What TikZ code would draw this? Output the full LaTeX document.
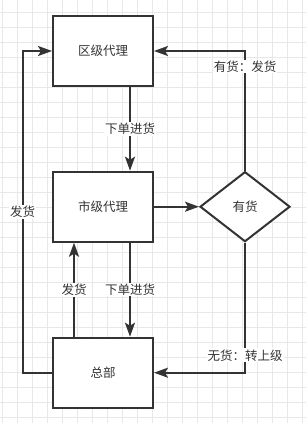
\documentclass[tikz,border=0pt]{standalone}
\usepackage{fontspec}
\setmainfont{Noto Sans CJK SC}
\usetikzlibrary{arrows.meta,shapes.geometric}
\definecolor{lc}{HTML}{333333}
\definecolor{tc}{HTML}{333333}
\definecolor{gridc}{HTML}{E8E8E8}
\begin{document}
\begin{tikzpicture}[x=1pt,y=-1pt,
  box/.style={draw=lc, line width=2pt, fill=white, minimum width=100pt, minimum height=70pt, inner sep=0pt, text=tc, font=\fontsize{12.5}{15}\selectfont},
  dia/.style={diamond, draw=lc, line width=2pt, fill=white, minimum width=90pt, minimum height=70pt, inner sep=0pt, aspect=1.2857, text=tc, font=\fontsize{12.5}{15}\selectfont},
  conn/.style={draw=lc, line width=2pt},
  arr/.style={conn, -{Stealth[length=14pt,width=10pt,inset=3pt]}},
  lbl/.style={fill=white, inner sep=1pt, text=tc, font=\fontsize{12.5}{15}\selectfont}]
\useasboundingbox (0,0) rectangle (306,423);
\fill[white] (0,0) rectangle (306,423);
\foreach \x in {2.3,17.3,...,303} \draw[gridc, line width=0.8pt] (\x,0) -- (\x,423);
\foreach \y in {12.3,27.3,...,423} \draw[gridc, line width=0.8pt] (0,\y) -- (306,\y);

\node[box] (qu) at (103,51) {区级代理};
\node[box] (shi) at (103,206.7) {市级代理};
\node[box] (zb) at (103,372.7) {总部};
\node[dia] (dh) at (245,206.7) {有货};

\coordinate (L1) at (22.7,372.7);
\coordinate (L2) at (22.7,51);

\draw[arr] ([xshift=27pt]qu.south) -- ([xshift=27pt]shi.north) node[lbl, midway] {下单进货};
\draw[arr] ([xshift=27pt]shi.south) -- ([xshift=27pt]zb.north) node[lbl, midway] {下单进货};
\draw[arr] ([xshift=-29pt]zb.north) -- ([xshift=-29pt]shi.south) node[lbl, midway] {发货};
\draw[arr] (shi.east) -- (dh.west);
\draw[arr] (dh.north) |- (qu.east) node[lbl, pos=0.435] {有货：发货};
\draw[arr] (dh.south) |- (zb.east) node[lbl, pos=0.433] {无货：转上级};
\draw[arr] (zb.west) -- (L1) -- (L2) node[lbl, midway] {发货} -- (qu.west);
\end{tikzpicture}
\end{document}
